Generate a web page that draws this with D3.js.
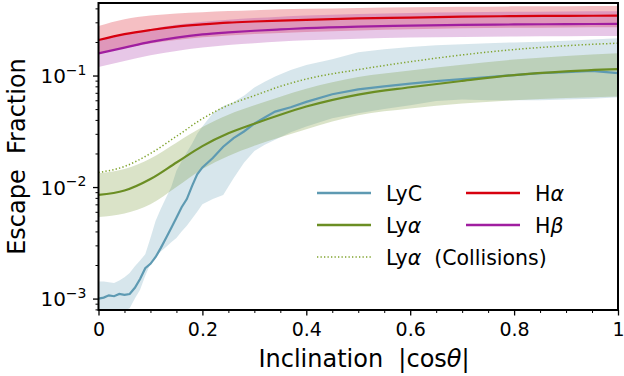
<!DOCTYPE html>
<html><head><meta charset="utf-8">
<script src="https://cdn.jsdelivr.net/npm/d3@7"></script>
<style>
html,body{margin:0;padding:0;background:#fff;}
svg text{font-family:"DejaVu Sans",sans-serif;fill:#000;}
</style></head>
<body><svg id="c" width="624" height="376"></svg>
<script>
// ---- data ----
const xs = [0, 0.05, 0.1, 0.15, 0.2, 0.25, 0.3, 0.35, 0.4, 0.5, 0.6, 0.7, 0.8, 0.9, 1.0];
const hAlpha      = [0.208,0.235,0.256,0.274,0.287,0.298,0.305,0.311,0.316,0.325,0.331,0.337,0.341,0.343,0.344];
const hAlphaHi    = [0.278,0.32,0.345,0.36,0.37,0.378,0.385,0.392,0.397,0.404,0.41,0.414,0.417,0.419,0.42];
const hAlphaLo    = [0.156,0.177,0.194,0.208,0.22,0.229,0.236,0.241,0.246,0.254,0.26,0.265,0.268,0.27,0.271];
const hBeta       = [0.158,0.178,0.2,0.219,0.234,0.244,0.252,0.259,0.266,0.275,0.28,0.284,0.287,0.289,0.29];
const hBetaHi     = [0.207,0.232,0.26,0.285,0.304,0.317,0.328,0.337,0.346,0.357,0.364,0.369,0.373,0.376,0.377];
const hBetaLo     = [0.119,0.135,0.152,0.166,0.178,0.188,0.195,0.202,0.207,0.214,0.219,0.222,0.224,0.225,0.226];
const lyA         = [8.5e-3,9.3e-3,1.18e-2,1.66e-2,2.33e-2,3.03e-2,3.7e-2,4.45e-2,5.27e-2,6.75e-2,7.85e-2,8.95e-2,0.101,0.109,0.114];
const lyAHi       = [1.33e-2,1.45e-2,1.8e-2,2.5e-2,3.45e-2,4.45e-2,5.4e-2,6.45e-2,7.6e-2,9.7e-2,0.111,0.125,0.139,0.15,0.158];
const lyALo       = [5.4e-3,5.8e-3,7.0e-3,1.0e-2,1.45e-2,1.9e-2,2.35e-2,2.8e-2,3.3e-2,4.4e-2,5.05e-2,5.6e-2,6.0e-2,6.3e-2,6.5e-2];
const lyACollis   = [1.35e-2,1.53e-2,2.0e-2,2.85e-2,4.1e-2,5.43e-2,6.6e-2,8.0e-2,9.3e-2,0.113,0.133,0.153,0.171,0.185,0.195];

const xsC = [0,0.01,0.02,0.03,0.04,0.05,0.06,0.07,0.08,0.09,0.10,0.11,0.12,0.13,0.14,0.15,0.16,0.17,0.18,0.19,0.2,0.22,0.24,0.26,0.28,0.3,0.32,0.34,0.37,0.4,0.45,0.5,0.55,0.6,0.65,0.7,0.75,0.8,0.85,0.9,0.95,1.0];
const lyC   = [1.0e-3,1.02e-3,1.07e-3,1.05e-3,1.1e-3,1.08e-3,1.1e-3,1.25e-3,1.5e-3,1.87e-3,2.05e-3,2.36e-3,2.85e-3,3.49e-3,4.3e-3,5.3e-3,6.6e-3,7.8e-3,1.02e-2,1.3e-2,1.5e-2,1.82e-2,2.3e-2,2.75e-2,3.15e-2,3.7e-2,4.2e-2,4.75e-2,5.2e-2,5.8e-2,6.8e-2,7.5e-2,8.0e-2,8.45e-2,8.9e-2,9.3e-2,9.7e-2,0.101,0.105,0.107,0.11,0.105];
const lyCHi = [1.42e-3,1.42e-3,1.4e-3,1.38e-3,1.45e-3,1.55e-3,1.7e-3,1.95e-3,2.2e-3,2.5e-3,3.5e-3,5.0e-3,6.4e-3,8.0e-3,1.0e-2,1.4e-2,1.7e-2,2.05e-2,2.45e-2,3.0e-2,3.5e-2,4.6e-2,5.3e-2,5.8e-2,6.6e-2,7.8e-2,8.8e-2,9.8e-2,0.112,0.124,0.14,0.162,0.172,0.18,0.187,0.191,0.195,0.198,0.201,0.205,0.21,0.216];
const lyCLo = [7e-4,7e-4,7.2e-4,7.4e-4,7.6e-4,7.8e-4,8.2e-4,1.0e-3,1.2e-3,1.6e-3,2.05e-3,2.35e-3,2.65e-3,2.9e-3,3.2e-3,3.5e-3,4.0e-3,4.5e-3,5.2e-3,6.0e-3,7.0e-3,7.8e-3,8.5e-3,1.2e-2,1.65e-2,2.1e-2,2.4e-2,2.65e-2,3.1e-2,3.5e-2,4.15e-2,4.6e-2,5.0e-2,5.4e-2,5.9e-2,6.1e-2,6.0e-2,6.0e-2,6.0e-2,6.1e-2,6.2e-2,6.4e-2];

const xTicks = [0,0.2,0.4,0.6,0.8,1];
const xTickLabels = ["0","0.2","0.4","0.6","0.8","1"];
const yDecades = [1e-3,1e-2,1e-1];
const yDecadeExp = ["−3","−2","−1"];

// ---- layout ----
const L=98.5, R=618, T=3, B=310;
const svg = d3.select("#c");
const x = d3.scaleLinear().domain([0,1]).range([L,R]);
const y = d3.scaleLog().domain([7.9e-4,0.447]).range([B,T]);

svg.append("defs").append("clipPath").attr("id","clip")
  .append("rect").attr("x",L).attr("y",T).attr("width",R-L).attr("height",B-T);
const g = svg.append("g").attr("clip-path","url(#clip)");

const colors = {lyc:"#5e9ab2", lya:"#6b8e23", col:"#7fa32c", ha:"#d7000e", hb:"#a01ea0"};

function band(xarr, lo, hi, color, curve){
  const a = d3.area().x((d,i)=>x(xarr[i])).y0((d,i)=>y(lo[i])).y1((d,i)=>y(hi[i])).curve(curve);
  g.append("path").attr("d",a(xarr)).attr("fill",color).attr("fill-opacity",0.25).attr("stroke","none");
}
function line(xarr, vals, color, curve, w, dash){
  const l = d3.line().x((d,i)=>x(xarr[i])).y((d,i)=>y(vals[i])).curve(curve);
  const p = g.append("path").attr("d",l(xarr)).attr("fill","none").attr("stroke",color).attr("stroke-width",w);
  if(dash) p.attr("stroke-dasharray",dash);
}
const sm = d3.curveMonotoneX, lin = d3.curveLinear;
band(xsC, lyCLo, lyCHi, colors.lyc, lin);
band(xs, lyALo, lyAHi, colors.lya, sm);
band(xs, hAlphaLo, hAlphaHi, colors.ha, sm);
band(xs, hBetaLo, hBetaHi, colors.hb, sm);
line(xsC, lyC, colors.lyc, lin, 2.2);
line(xs, lyA, colors.lya, sm, 2.2);
line(xs, lyACollis, colors.col, sm, 1.5, "1.3,2.2");
line(xs, hAlpha, colors.ha, sm, 2.2);
line(xs, hBeta, colors.hb, sm, 2.2);

// ---- axes ----
const axG = svg.append("g");
const xa = axG.append("g").attr("transform",`translate(0,${B})`)
  .call(d3.axisBottom(x).tickValues(xTicks).tickSize(5.5).tickPadding(7).tickFormat((d,i)=>xTickLabels[i]));
xa.select(".domain").remove();
xa.selectAll("line").attr("stroke","#000").attr("stroke-width",1.3);
xa.selectAll("text").attr("font-size","19px").attr("font-family","DejaVu Sans");
const xMinor = d3.range(0,1.0001,0.05).filter(v=>Math.abs(v*5-Math.round(v*5))>1e-6);
const xm = axG.append("g").attr("transform",`translate(0,${B})`)
  .call(d3.axisBottom(x).tickValues(xMinor).tickSize(3).tickFormat(""));
xm.select(".domain").remove();
xm.selectAll("line").attr("stroke","#000").attr("stroke-width",1);

const ya = axG.append("g").attr("transform",`translate(${L},0)`)
  .call(d3.axisLeft(y).tickValues(yDecades).tickSize(5.5).tickFormat(""));
ya.select(".domain").remove();
ya.selectAll("line").attr("stroke","#000").attr("stroke-width",1.3);
yDecades.forEach((v,i)=>{
  const t = svg.append("text").attr("x",L-12).attr("y",y(v)+7.5).attr("text-anchor","end").attr("font-size","20px");
  t.append("tspan").text("10");
  t.append("tspan").attr("dy",-8.5).attr("font-size","14px").text(yDecadeExp[i]);
});
const yMinor = [];
[1e-4,1e-3,1e-2,1e-1].forEach(d=>{for(let k=2;k<=9;k++){const v=d*k; if(v>=7.9e-4 && v<=0.447) yMinor.push(v);}});
const ym = axG.append("g").attr("transform",`translate(${L},0)`)
  .call(d3.axisLeft(y).tickValues(yMinor).tickSize(3).tickFormat(""));
ym.select(".domain").remove();
ym.selectAll("line").attr("stroke","#000").attr("stroke-width",1);

svg.append("rect").attr("x",L).attr("y",T).attr("width",R-L).attr("height",B-T)
  .attr("fill","none").attr("stroke","#000").attr("stroke-width",2);

// axis titles
const xt = svg.append("text").attr("x",364).attr("y",367).attr("text-anchor","middle").attr("font-size","24px").style("white-space","pre");
xt.append("tspan").text("Inclination  |cos");
xt.append("tspan").attr("font-style","italic").text("θ");
xt.append("tspan").text("|");
svg.append("text").attr("transform",`translate(25,${(T+B)/2}) rotate(-90)`).attr("text-anchor","middle")
  .attr("font-size","24px").style("white-space","pre").text("Escape  Fraction");

// ---- legend ----
const leg = [
  {x0:317, ty:193, color:colors.lyc, parts:[["LyC",false]]},
  {x0:317, ty:225, color:colors.lya, parts:[["Ly",false],["α",true]]},
  {x0:317, ty:257, color:colors.col, dash:"1.3,2.2", w:1.5, parts:[["Ly",false],["α",true],["  (Collisions)",false]]},
  {x0:466, ty:193, color:colors.ha, parts:[["H",false],["α",true]]},
  {x0:466, ty:225, color:colors.hb, parts:[["H",false],["β",true]]}
];
leg.forEach(e=>{
  const ln = svg.append("line").attr("x1",e.x0).attr("x2",e.x0+54).attr("y1",e.ty).attr("y2",e.ty)
    .attr("stroke",e.color).attr("stroke-width",e.w||2.6);
  if(e.dash) ln.attr("stroke-dasharray",e.dash);
  const t = svg.append("text").attr("x",e.x0+69).attr("y",e.ty+7.5).attr("font-size","20.5px").style("white-space","pre");
  e.parts.forEach(p=>{const s=t.append("tspan").text(p[0]); if(p[1]) s.attr("font-style","italic");});
});
</script></body></html>
